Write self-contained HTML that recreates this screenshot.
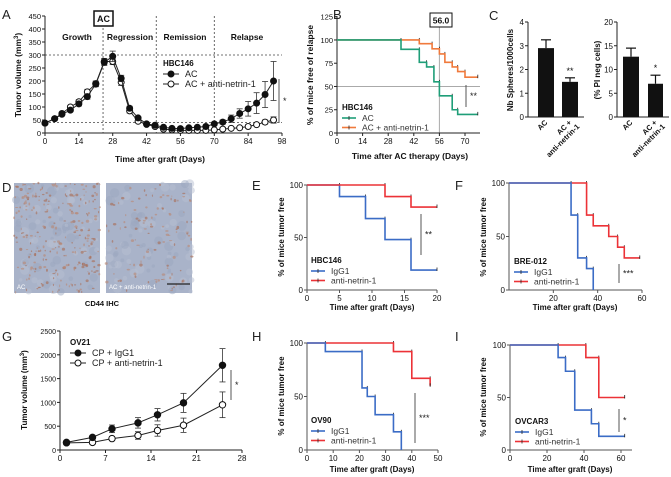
<!DOCTYPE html>
<html><head><meta charset="utf-8"><style>
html,body{margin:0;padding:0;background:#fff}
svg{display:block;font-family:"Liberation Sans",Arial,sans-serif}
</style></head><body>
<svg id="fig" width="671" height="477" viewBox="0 0 671 477" xmlns="http://www.w3.org/2000/svg"></svg>
<script>
// ---------- DATA ----------
const A_days=[0,4,7,10.5,14,17.5,21,24.5,28,31.5,35,38.5,42,45.5,49,52.5,56,59.5,63,66.5,70,73.5,77,80.5,84,87.5,91,94.5];
const A_ac=[38,55,72,88,112,140,188,272,295,210,95,58,35,30,22,18,17,20,22,25,35,42,55,75,93,115,148,200];
const A_acErr=[3,4,5,6,8,10,10,12,20,12,8,5,4,4,3,3,3,3,3,4,6,8,14,18,28,40,50,75];
const A_anti=[38,55,75,100,120,158,190,275,275,195,85,45,33,25,15,12,10,10,10,10,12,15,18,20,25,32,42,50];
const A_antiErr=[3,4,5,6,8,10,10,12,12,12,8,5,4,4,3,3,3,3,3,3,3,4,4,5,5,6,8,12];
const A_xticks=[0,14,28,42,56,70,84,98];
const A_yticks=[0,50,100,150,200,250,300,350,400,450];

const B_acT=[35,45,49,53,56,63,66];const B_acS=[90,76,71,55,40,25,20];
const B_antiT=[45,52,56,59,63,66,70];const B_antiS=[96,90.5,85,76,71,66,60];
const B_xticks=[0,14,28,42,56,70];const B_yticks=[0,25,50,75,100,125];

const C_groups=["AC","AC +\nanti-netrin-1"];
const C_sph=[2.9,1.48];const C_sphErr=[0.35,0.17];
const C_pi=[12.7,7.0];const C_piErr=[1.8,1.8];

const E_igT=[5,9,12,16];const E_igS=[89,68,48,19];
const E_anT=[12,16];const E_anS=[89,79];
const F_igT=[28,31,35,38];const F_igS=[70,30,20,0];
const F_anT=[35,38,45,49,52];const F_anS=[70,60,50,40,30];

const G_days=[1,5,8,12,15,19,25];
const G_ig=[160,265,445,570,740,990,1780];const G_igErr=[40,40,80,110,130,200,350];
const G_an=[150,160,240,305,410,520,950];const G_anErr=[30,30,40,80,120,150,270];
const G_xticks=[0,7,14,21,28];const G_yticks=[0,500,1000,1500,2000,2500];

const H_igT=[7,21,23,26,33,36];const H_igS=[92,58,50,33,17,0];
const H_anT=[33,40,47];const H_anS=[92,67,60];
const I_igT=[26,30,35,44,48];const I_igS=[88,75,38,25,13];
const I_anT=[41,48];const I_anS=[88,50];

// ---------- HELPERS ----------
const NS="http://www.w3.org/2000/svg";
const svg=document.getElementById('fig');
function lin(d0,d1,p0,p1){return v=>p0+(v-d0)*(p1-p0)/(d1-d0);}
function mk(tag,attrs,name,parent){
  const el=document.createElementNS(NS,tag);
  for(const k in attrs)el.setAttribute(k,attrs[k]);
  
  
  (parent||svg).appendChild(el);return el;
}
function txt(x,y,s,o,name,parent){
  o=o||{};
  const a={x:x,y:y,'font-size':o.size||8,'text-anchor':o.anchor||'start',fill:o.fill||'#111'};
  if(o.bold)a['font-weight']='bold';
  if(o.rot!==undefined)a.transform='rotate('+o.rot+' '+x+' '+y+')';
  const t=mk('text',a,name,parent);t.textContent=s;return t;
}
function line(x1,y1,x2,y2,c,w,name,dash,parent){
  const a={x1:x1,y1:y1,x2:x2,y2:y2,stroke:c||'#222','stroke-width':w||1};
  if(dash)a['stroke-dasharray']=dash;
  return mk('line',a,name,parent);
}
function xAxis(sx,y,x0,x1,ticks,name,fs,col){
  line(x0,y,x1,y,col||'#222',1,name+'-x-axis');
  ticks.forEach(t=>{line(sx(t),y,sx(t),y+3,col||'#222',1,name+'-x-tick');
    txt(sx(t),y+11,String(t),{anchor:'middle',size:fs||8},name+'-x-tick-label');});
}
function yAxis(sy,x,y0,y1,ticks,name,fs,col){
  line(x,y0,x,y1,col||'#222',1,name+'-y-axis');
  ticks.forEach(t=>{line(x-3,sy(t),x,sy(t),col||'#222',1,name+'-y-tick');
    txt(x-4,sy(t)+3,String(t),{anchor:'end',size:fs||8},name+'-y-tick-label');});
}
function km(sx,sy,T,S,end,color,name){
  let d='M'+sx(0)+' '+sy(100);let prev=100;
  T.forEach((t,i)=>{d+=' H'+sx(t)+' V'+sy(S[i]);
    mk('line',{x1:sx(t),y1:sy(prev)-2,x2:sx(t),y2:sy(prev)+2,stroke:'#222','stroke-width':0.8},name+'-censor');
    prev=S[i];});
  d+=' H'+sx(end);
  mk('path',{d:d,fill:'none',stroke:color,'stroke-width':1.6},name);
  if(S[S.length-1]>0)mk('line',{x1:sx(end),y1:sy(prev)-2.5,x2:sx(end),y2:sy(prev)+1,stroke:'#222','stroke-width':0.8},name+'-end-censor');
}
function series(sx,sy,X,Y,E,filled,name,r){
  let d='';X.forEach((x,i)=>{d+=(i?' L':'M')+sx(x)+' '+sy(Y[i]);});
  mk('path',{d:d,fill:'none',stroke:'#222','stroke-width':1},name+'-line');
  X.forEach((x,i)=>{
    const cx=sx(x),t=sy(Y[i]+E[i]),b=sy(Math.max(0,Y[i]-E[i]));
    line(cx,t,cx,b,'#333',0.8,name+'-error-bar');
    line(cx-3,t,cx+3,t,'#333',0.8,name+'-error-cap');
    line(cx-3,b,cx+3,b,'#333',0.8,name+'-error-cap');
  });
  X.forEach((x,i)=>{mk('circle',{cx:sx(x),cy:sy(Y[i]),r:r||3,fill:filled?'#111':'#fff',stroke:'#111','stroke-width':1},name+'-point');});
}
function legendKM(x,y,title,items,name){
  txt(x,y,title,{bold:true,size:8},name+'-title');
  items.forEach((it,i)=>{const yy=y+11+i*9.5;
    line(x,yy-3,x+14,yy-3,it[1],1.6,name+'-swatch');
    line(x+7,yy-5,x+7,yy-1,'#222',0.8,name+'-swatch-tick');
    txt(x+20,yy,it[0],{size:8.5,fill:'#333'},name+'-entry');});
}
function legendXY(x,y,title,items,name){
  txt(x,y,title,{bold:true,size:8},name+'-title');
  items.forEach((it,i)=>{const yy=y+11+i*10;
    line(x,yy-3,x+16,yy-3,'#222',1,name+'-swatch');
    mk('circle',{cx:x+8,cy:yy-3,r:3,fill:it[1]?'#111':'#fff',stroke:'#111'},name+'-marker');
    txt(x+22,yy,it[0],{size:9,fill:'#222'},name+'-entry');});
}
function sig(x,y1,y2,s,name){line(x,y1,x,y2,'#555',1,name+'-line');
  txt(x+4,(y1+y2)/2+3,s,{size:9,fill:'#222'},name+'-stars');}
function plabel(x,y,s){txt(x,y,s,{size:13,fill:'#222'},'panel-label-'+s.toLowerCase());}

// ---------- PANEL A ----------
plabel(2,19,'A');
{const sx=lin(0,98,45,282),sy=lin(0,450,133,16);
 line(45,sy(300),282,sy(300),'#444',0.8,'a-threshold-300','2,2');
 line(45,sy(40),282,sy(40),'#444',0.8,'a-threshold-40','2,2');
 [24,46,70].forEach(d=>line(sx(d),16,sx(d),133,'#444',0.8,'a-phase-divider','2,2'));
 xAxis(sx,133,45,282,A_xticks,'a');yAxis(sy,45,16,133,A_yticks,'a',7.5);
 mk('rect',{x:94,y:11,width:19,height:15,fill:'#fff',stroke:'#111','stroke-width':1.5},'a-ac-box');
 txt(103.5,22,'AC',{bold:true,anchor:'middle',size:9},'a-ac-box-label');
 txt(77,40,'Growth',{bold:true,anchor:'middle',size:8.5},'a-phase-growth');
 txt(130,40,'Regression',{bold:true,anchor:'middle',size:8.5},'a-phase-regression');
 txt(185,40,'Remission',{bold:true,anchor:'middle',size:8.5},'a-phase-remission');
 txt(247,40,'Relapse',{bold:true,anchor:'middle',size:8.5},'a-phase-relapse');
 series(sx,sy,A_days,A_anti,A_antiErr,false,'a-anti-netrin');
 series(sx,sy,A_days,A_ac,A_acErr,true,'a-ac');
 legendXY(163,66,'HBC146',[['AC',true],['AC + anti-netrin-1',false]],'a-legend');
 sig(279,79,123,'*','a-significance');
 txt(160,162,'Time after graft (Days)',{bold:true,anchor:'middle',size:8.5},'a-x-title');
 const yt=txt(21,75,'Tumor volume (mm',{bold:true,anchor:'middle',size:8.5,rot:-90},'a-y-title');
 const sup=document.createElementNS(NS,'tspan');sup.setAttribute('font-size','6');sup.setAttribute('dy','-3');sup.textContent='3';yt.appendChild(sup);
 const cl=document.createElementNS(NS,'tspan');cl.setAttribute('dy','3');cl.textContent=')';yt.appendChild(cl);
}
// ---------- PANEL B ----------
plabel(333,19,'B');
{const sx=lin(0,70,337,465),sy=lin(0,125,133,16.7);
 line(337,sy(50),480,sy(50),'#aaa',1,'b-median-line');
 line(sx(56),sy(0),sx(56),27,'#aaa',1,'b-median-marker');
 xAxis(sx,133,337,480,B_xticks,'b');yAxis(sy,337,16,133,B_yticks,'b',7.5);
 km(sx,sy,B_antiT,B_antiS,77,'#f07a3c','b-anti-netrin-curve');
 km(sx,sy,B_acT,B_acS,77,'#1f9e78','b-ac-curve');
 mk('rect',{x:430,y:13,width:22,height:14,fill:'#fff',stroke:'#111','stroke-width':1},'b-median-box');
 txt(441,23.5,'56.0',{bold:true,anchor:'middle',size:8.5},'b-median-value');
 legendKM(342,110,'HBC146',[['AC','#1f9e78'],['AC + anti-netrin-1','#f07a3c']],'b-legend');
 sig(466,85,107,'**','b-significance');
 txt(410,159,'Time after AC therapy (Days)',{bold:true,anchor:'middle',size:8.5},'b-x-title');
 txt(313,75,'% of mice free of relapse',{bold:true,anchor:'middle',size:8.5,rot:-90},'b-y-title');
}
// ---------- PANEL C ----------
plabel(489,20,'C');
function barChart(ax,sy,ticks,vals,errs,bars,stars,ylab,ylx,name){
  yAxis(sy,ax,22,117,ticks,name,8);line(ax,117,bars[1][1]+6,117,'#222',1,name+'-x-axis');
  vals.forEach((v,i)=>{const b=bars[i],cx=(b[0]+b[1])/2;
    mk('rect',{x:b[0],y:sy(v),width:b[1]-b[0],height:117-sy(v),fill:'#111'},name+'-bar');
    line(cx,sy(v),cx,sy(v+errs[i]),'#111',1.2,name+'-error-bar');
    line(cx-5,sy(v+errs[i]),cx+5,sy(v+errs[i]),'#111',1.2,name+'-error-cap');
    const l=C_groups[i].split('\n');
    l.forEach((s,j)=>txt(cx+2+j*8,123+j*4,s,{bold:true,anchor:'end',size:7.5,rot:-45},name+'-x-label'));
  });
  txt((bars[1][0]+bars[1][1])/2,sy(vals[1]+errs[1])-4,stars,{anchor:'middle',size:9},name+'-significance');
  txt(ylx,70,ylab,{bold:true,anchor:'middle',size:8,rot:-90},name+'-y-title');
}
barChart(528,lin(0,4,117,22),[0,1,2,3,4],C_sph,C_sphErr,[[538,554],[562,578]],'**','Nb Spheres/1000cells',513,'c-spheres');
barChart(617,lin(0,20,117,22),[0,5,10,15,20],C_pi,C_piErr,[[623,639],[648,663]],'*','(% PI neg cells)',600,'c-pi');
// ---------- PANEL D ----------
plabel(2,192,'D');
function ihc(x,y,w,h,n,seed,name){
  mk('rect',{x:x,y:y,width:w,height:h,fill:'#a9b3c9'},name);
  let s=seed;const r=()=>{s=(s*9301+49297)%233280;return s/233280;};
  for(let i=0;i<80;i++){mk('circle',{cx:x+r()*w,cy:y+r()*h,r:1.5+r()*3.5,fill:r()<0.5?'#b7bfd2':'#9ba7c0','opacity':0.5},name+'-texture');}
  for(let i=0;i<n;i++){mk('ellipse',{cx:x+r()*w,cy:y+r()*h,rx:0.5+r()*1.3,ry:0.5+r()*1.1,fill:r()<0.5?'#a9705a':'#b88a78','opacity':0.65},name+'-stain');}
}
ihc(14,183,86,110,260,7,'d-ihc-ac');
ihc(106,183,86,110,110,13,'d-ihc-anti-netrin');
txt(17,289,'AC',{size:6,fill:'#fff'},'d-image-label-ac');
txt(109,289,'AC + anti-netrin-1',{size:6,fill:'#fff'},'d-image-label-anti');
line(167,284,190,284,'#222',1.2,'d-scale-bar');
txt(102,306,'CD44 IHC',{bold:true,anchor:'middle',size:7.5},'d-caption');
// ---------- PANEL E ----------
plabel(252,190,'E');
{const sx=lin(0,20,307,437),sy=lin(0,100,290,185);
 xAxis(sx,290,307,437,[0,5,10,15,20],'e',8,'#555');yAxis(sy,307,185,290,[0,50,100],'e',8,'#555');
 km(sx,sy,E_igT,E_igS,20,'#3b6cc6','e-igg1-curve');km(sx,sy,E_anT,E_anS,20,'#ec3237','e-anti-netrin-curve');
 legendKM(311,263,'HBC146',[['IgG1','#3b6cc6'],['anti-netrin-1','#ec3237']],'e-legend');
 sig(421,214,255,'**','e-significance');
 txt(372,310,'Time after graft (Days)',{bold:true,anchor:'middle',size:8},'e-x-title');
 txt(284,237,'% of mice tumor free',{bold:true,anchor:'middle',size:8,rot:-90},'e-y-title');}
// ---------- PANEL F ----------
plabel(455,190,'F');
{const sx=lin(0,60,509,642),sy=lin(0,100,290,183);
 xAxis(sx,290,509,642,[20,40,60],'f',8,'#555');yAxis(sy,509,183,290,[0,50,100],'f',8,'#555');
 km(sx,sy,F_anT,F_anS,59,'#ec3237','f-anti-netrin-curve');km(sx,sy,F_igT,F_igS,38,'#3b6cc6','f-igg1-curve');
 legendKM(514,264,'BRE-012',[['IgG1','#3b6cc6'],['anti-netrin-1','#ec3237']],'f-legend');
 sig(619,264,283,'***','f-significance');
 txt(575,310,'Time after graft (Days)',{bold:true,anchor:'middle',size:8},'f-x-title');
 txt(486,237,'% of mice tumor free',{bold:true,anchor:'middle',size:8,rot:-90},'f-y-title');}
// ---------- PANEL G ----------
plabel(2,341,'G');
{const sx=lin(0,28,60,242),sy=lin(0,2500,450,331);
 xAxis(sx,450,60,242,G_xticks,'g');yAxis(sy,60,331,450,G_yticks,'g',7);
 series(sx,sy,G_days,G_an,G_anErr,false,'g-anti-netrin',3.2);
 series(sx,sy,G_days,G_ig,G_igErr,true,'g-igg1',3.2);
 legendXY(70,345,'OV21',[['CP + IgG1',true],['CP + anti-netrin-1',false]],'g-legend');
 sig(231,370,400,'*','g-significance');
 const yt=txt(27,390,'Tumor volume (mm',{bold:true,anchor:'middle',size:8,rot:-90},'g-y-title');
 const sup=document.createElementNS(NS,'tspan');sup.setAttribute('font-size','6');sup.setAttribute('dy','-3');sup.textContent='3';yt.appendChild(sup);
 const cl=document.createElementNS(NS,'tspan');cl.setAttribute('dy','3');cl.textContent=')';yt.appendChild(cl);}
// ---------- PANEL H ----------
plabel(252,341,'H');
{const sx=lin(0,50,307,438),sy=lin(0,100,450,343);
 xAxis(sx,450,307,438,[0,10,20,30,40,50],'h',8,'#555');yAxis(sy,307,343,450,[0,50,100],'h',8,'#555');
 km(sx,sy,H_anT,H_anS,47,'#ec3237','h-anti-netrin-curve');km(sx,sy,H_igT,H_igS,36,'#3b6cc6','h-igg1-curve');
 legendKM(311,423,'OV90',[['IgG1','#3b6cc6'],['anti-netrin-1','#ec3237']],'h-legend');
 sig(415,393,443,'***','h-significance');
 txt(372,472,'Time after graft (Days)',{bold:true,anchor:'middle',size:8},'h-x-title');
 txt(284,396,'% of mice tumor free',{bold:true,anchor:'middle',size:8,rot:-90},'h-y-title');}
// ---------- PANEL I ----------
plabel(455,341,'I');
{const sx=lin(0,60,510,621),sy=lin(0,100,450,345);
 xAxis(sx,450,510,632,[0,20,40,60],'i',8,'#555');yAxis(sy,510,345,450,[0,50,100],'i',8,'#555');
 km(sx,sy,I_anT,I_anS,62,'#ec3237','i-anti-netrin-curve');km(sx,sy,I_igT,I_igS,62,'#3b6cc6','i-igg1-curve');
 legendKM(515,424,'OVCAR3',[['IgG1','#3b6cc6'],['anti-netrin-1','#ec3237']],'i-legend');
 sig(619,409,432,'*','i-significance');
 txt(570,472,'Time after graft (Days)',{bold:true,anchor:'middle',size:8},'i-x-title');
 txt(486,397,'% of mice tumor free',{bold:true,anchor:'middle',size:8,rot:-90},'i-y-title');}
</script>
</body></html>
